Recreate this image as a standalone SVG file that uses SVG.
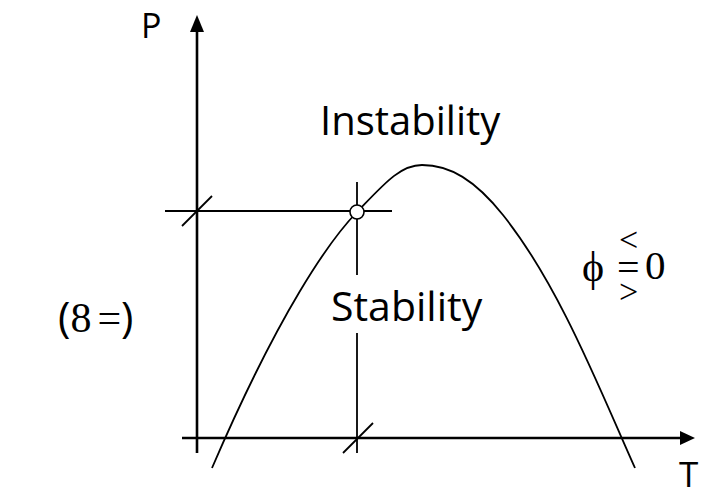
<svg xmlns="http://www.w3.org/2000/svg" width="707" height="491" viewBox="0 0 707 491">
<style>
.ax{stroke:#000;stroke-width:2.6;fill:none}
.ln{stroke:#000;stroke-width:1.8;fill:none}
.sans{font-family:"Open Sans","Noto Sans",sans-serif;fill:#000}
.serif{font-family:"Liberation Serif","Times New Roman",serif;fill:#000}
</style>
<rect width="707" height="491" fill="#fff"/>
<g id="connectors">
<line class="ax" x1="197" y1="453" x2="197" y2="30"/>
<polygon points="197,15 190,32 204,32" fill="#000"/>
<line class="ax" x1="182" y1="438" x2="682" y2="438"/>
<polygon points="695,438 680,431 680,445" fill="#000"/>
<line class="ln" x1="165" y1="211" x2="392" y2="211"/>
<line class="ln" x1="357" y1="182" x2="357" y2="275"/>
<line class="ln" x1="357" y1="333" x2="357" y2="453"/>
<line class="ln" x1="182" y1="226" x2="212" y2="196"/>
<line class="ln" x1="343" y1="453" x2="373" y2="423"/>
<path class="ln" d="M212,468 C280,310 330,240 357,212 C384,184 400,165 422,165 C450,165 475,180 503,215 C559,285 600,390 635,468"/>
</g>
<g id="point"><circle cx="357" cy="212" r="7" fill="#fff" stroke="#000" stroke-width="1.6"/></g>
<g id="labels">
<text class="sans" x="141" y="38" font-size="34">P</text>
<text class="sans" x="679" y="487" font-size="35">T</text>
<text class="sans" x="320" y="135" font-size="40">Instability</text>
<text class="sans" x="331" y="321" font-size="41">Stability</text>
<text class="serif" x="582" y="281" font-size="42">ϕ</text>
<text class="serif" x="619" y="251" font-size="34">&lt;</text>
<text class="serif" x="617" y="281" font-size="40">=</text>
<text class="serif" x="619" y="303" font-size="34">&gt;</text>
<text class="serif" x="645" y="279" font-size="41">0</text>
<text x="58" y="332" font-size="42"><tspan class="sans">(</tspan><tspan class="serif">8</tspan><tspan class="serif" dx="6">=</tspan><tspan class="sans">)</tspan></text>
</g>
</svg>
